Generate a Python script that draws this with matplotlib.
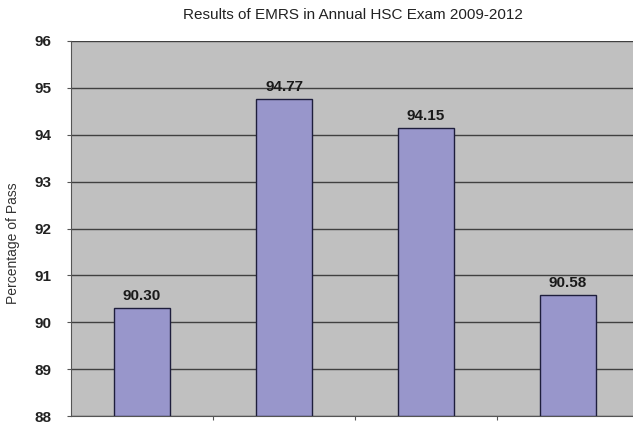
import matplotlib
matplotlib.use("Agg")
import matplotlib.pyplot as plt

years = ["2009", "2010", "2011", "2012"]
values = [90.30, 94.77, 94.15, 90.58]
labels = ["90.30", "94.77", "94.15", "90.58"]
yticks = [88, 89, 90, 91, 92, 93, 94, 95, 96]

fam = ["Liberation Sans Narrow", "Liberation Sans", "DejaVu Sans"]

fig = plt.figure(figsize=(6.33, 4.25), dpi=100)
# plot area extends a little past the right edge, as in the reference
ax = fig.add_axes([71/633, 9/425, 568/633, (416-41)/425])
ax.set_facecolor("#C0C0C0")

x = list(range(len(values)))
ax.bar(x, [v - 88 for v in values], bottom=88, width=0.40, color="#9896CB",
       edgecolor="#1E1E3C", linewidth=1.0, zorder=3)
for xi, v, lab in zip(x, values, labels):
    ax.text(xi, v + 0.1, lab, ha="center", va="bottom", fontsize=11,
            fontweight="bold", family=fam, color="#1a1a1a", zorder=4)

ax.set_ylim(88, 96)
ax.set_xlim(-0.5, 3.5)
ax.set_yticks(yticks)
ax.set_yticklabels([str(t) for t in yticks], fontsize=11, fontweight="bold",
                   family=fam, color="#222222")
ax.yaxis.grid(True, color="#404040", linewidth=1.0, zorder=1)
ax.set_axisbelow(True)
ax.set_xticks([0.5, 1.5, 2.5, 3.5])
ax.set_xticklabels([])
ax.tick_params(axis="x", length=3, color="#555555")
ax.tick_params(axis="y", length=3, color="#555555", pad=11)
for s in ["top", "right"]:
    ax.spines[s].set_visible(False)
ax.spines["left"].set_color("#555555")
ax.spines["bottom"].set_color("#555555")

fig.text(13/633, 1 - 243/425, "Percentage of Pass", rotation=90, ha="center",
         va="center", fontsize=10, family=fam, color="#333333")
fig.text(353/633, 1 - 15/425, "Results of EMRS in Annual HSC Exam 2009-2012",
         ha="center", va="center", fontsize=11, family=fam, color="#222222")

fig.savefig("out.png", dpi=100)
